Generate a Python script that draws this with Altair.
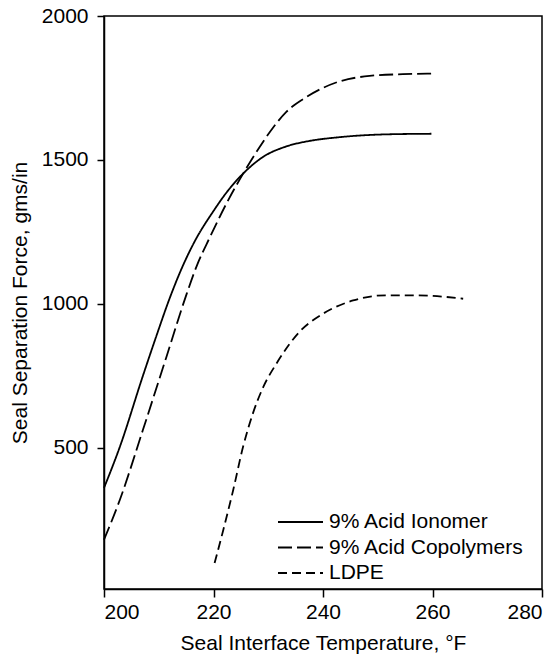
import altair as alt
import pandas as pd

FONT = "Liberation Sans"

series_names = ["9% Acid Ionomer", "9% Acid Copolymers", "LDPE"]

ionomer_t = [200, 202.9, 207.1, 209.5, 212.0, 214.0, 216.5, 219.9, 222.5, 225.8, 229.0, 233.3, 237.5, 242.4, 251.6, 259.8]
ionomer_f = [361, 504, 750, 885, 1020, 1115, 1215, 1320, 1390, 1460, 1510, 1547, 1566, 1578, 1589, 1591]

copoly_t = [200, 202.9, 207.1, 211.4, 215.1, 217.0, 219.3, 222.4, 225.8, 228.4, 230.9, 233.3, 237.0, 242.4, 248.5, 254.6, 260.1]
copoly_f = [181, 320, 562, 816, 1035, 1135, 1230, 1350, 1465, 1544, 1613, 1667, 1719, 1769, 1792, 1798, 1800]

ldpe_t = [220.2, 221.8, 223.6, 225.4, 227.2, 229.1, 231.5, 235.7, 240.0, 245.5, 251.5, 257.0, 265.6]
ldpe_f = [100, 216, 354, 504, 620, 712, 793, 903, 966, 1012, 1030, 1030, 1018]

x_ticks = [200, 220, 240, 260, 280]
y_ticks = [500, 1000, 1500, 2000]
dash_patterns = [[1, 0], [14, 5], [9, 5]]

rows = []
for name, ts, fs in zip(series_names, [ionomer_t, copoly_t, ldpe_t], [ionomer_f, copoly_f, ldpe_f]):
    for i, (t, f) in enumerate(zip(ts, fs)):
        rows.append({"series": name, "temp": t, "force": f, "order": i})
df = pd.DataFrame(rows)
legend_df = pd.DataFrame({"series": series_names})

dash = alt.StrokeDash("series:N",
                      scale=alt.Scale(domain=series_names, range=dash_patterns),
                      legend=None)

lines = alt.Chart(df).mark_line(
    color="black", strokeWidth=1.8, interpolate="monotone"
).encode(
    x=alt.X("temp:Q",
            scale=alt.Scale(domain=[200, 280], nice=False, zero=False),
            axis=alt.Axis(values=x_ticks, format="d", title="Seal Interface Temperature, °F",
                          grid=False, tickSize=8, labelPadding=4, titlePadding=10)),
    y=alt.Y("force:Q",
            scale=alt.Scale(domain=[10, 2000], nice=False, zero=False),
            axis=alt.Axis(values=y_ticks, format="d", title="Seal Separation Force, gms/in",
                          grid=False, tickSize=7, labelPadding=9, titlePadding=11)),
    detail="series:N",
    order="order:Q",
    strokeDash=dash,
)

legend_y = alt.Y("series:N",
                 scale=alt.Scale(type="point", domain=series_names, range=[506, 557], padding=0),
                 axis=None)

legend_rules = alt.Chart(legend_df).mark_rule(color="black", strokeWidth=1.8).encode(
    x=alt.value(174), x2=alt.value(219), y=legend_y, strokeDash=dash,
)

legend_text = alt.Chart(legend_df).mark_text(
    align="left", baseline="middle", font=FONT, fontSize=21, color="black"
).encode(
    x=alt.value(225), y=legend_y, text="series:N",
)

chart = alt.layer(lines, legend_rules, legend_text).resolve_scale(
    y="independent"
).properties(
    width=438, height=573,
    autosize=alt.AutoSizeParams(type="none"),
    padding={"left": 96, "top": 8, "right": 10, "bottom": 70},
).configure_view(
    stroke="black", strokeWidth=1.5
).configure_axis(
    domainColor="black", domainWidth=1.5, tickColor="black", tickWidth=1.5,
    labelFont=FONT, labelFontSize=21, labelColor="black",
    titleFont=FONT, titleFontSize=21, titleFontWeight="normal", titleColor="black",
)

chart.save("out.html", embed_options={"renderer": "svg", "actions": False})
